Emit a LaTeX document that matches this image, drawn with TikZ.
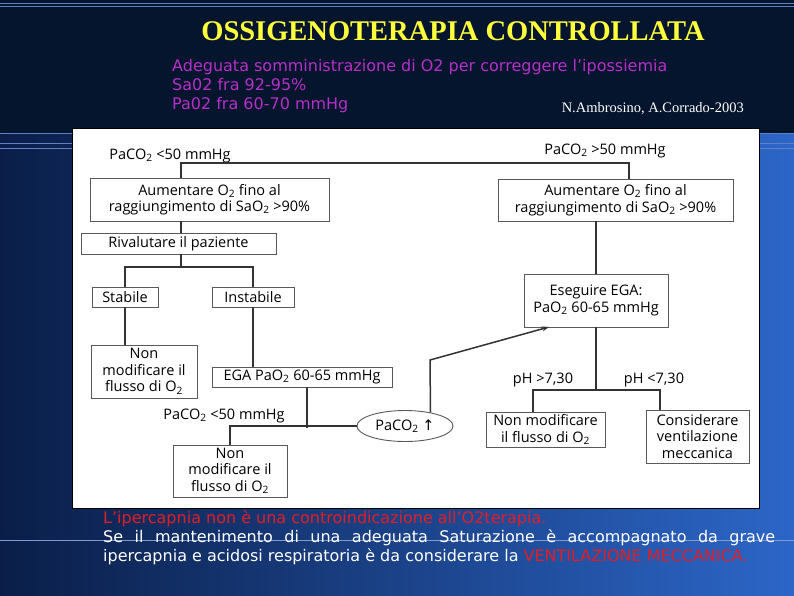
\documentclass[tikz,border=0pt]{standalone}
\usepackage{fontspec}
\setmainfont{Liberation Sans}
\newfontfamily\titlefont{Liberation Serif}
\newfontfamily\authorfont{Liberation Serif}
\newfontfamily\slidefont{DejaVu Sans}
\newfontfamily\chartfont{Open Sans}
\newfontfamily\symbolfont{DejaVu Sans}
\usetikzlibrary{shapes.geometric,arrows.meta}
\definecolor{bandnavy}{RGB}{6,21,46}
\definecolor{leftnavy}{RGB}{10,30,72}
\definecolor{rightblue}{RGB}{44,102,200}
\definecolor{rulerblue}{RGB}{96,128,196}
\definecolor{titleyellow}{RGB}{255,255,60}
\definecolor{subpurple}{RGB}{180,48,200}
\definecolor{notered}{RGB}{226,30,36}
\begin{document}
\begin{tikzpicture}[x=1pt,y=-1pt]
  \tikzset{box/.style={draw=black!65,line width=0.9pt,fill=white,inner sep=0pt,align=center,font=\chartfont\fontsize{14.5}{16.5}\selectfont},
    lab/.style={inner sep=0pt,font=\chartfont\fontsize{14.5}{16.5}\selectfont},
    link/.style={line width=1.5pt,draw=black!80}}
  \useasboundingbox (0,0) rectangle (794,595);
  % background
  \shade[left color=leftnavy,right color=rightblue] (0,133) rectangle (794,595);
  \fill[bandnavy] (0,0) rectangle (794,133);
  \draw[rulerblue,line width=0.8pt] (0,3.5) -- (794,3.5) (0,6) -- (794,6);
  \draw[rulerblue,line width=0.8pt] (0,133.5) -- (794,133.5) (0,143.5) -- (794,143.5) (0,148) -- (794,148);
  \draw[rulerblue!80,line width=0.8pt] (0,540) -- (794,540);
  % header
  \node[inner sep=0pt,text=titleyellow,font=\titlefont\bfseries\fontsize{28.5}{32}\selectfont] (title) at (453,31) {OSSIGENOTERAPIA CONTROLLATA};
  \node[inner sep=0pt,anchor=west,text=subpurple,align=left,font=\slidefont\fontsize{16}{19}\selectfont] (sub) at (172,86)
    {Adeguata somministrazione di O2 per correggere l’ipossiemia\\Sa02 fra 92-95\%\\Pa02 fra 60-70 mmHg};
  \node[inner sep=0pt,anchor=east,text=white,font=\authorfont\fontsize{14.5}{16}\selectfont] (author) at (744,109) {N.Ambrosino, A.Corrado-2003};
  % panel
  \draw[fill=white,draw=black,line width=1pt] (72,128) rectangle (759,508);
  % boxes
  \node[box,minimum width=239pt,minimum height=43pt] (a1) at (209.5,199.5) {Aumentare O\textsubscript{2} fino al\\raggiungimento di SaO\textsubscript{2} >90\%};
  \node[box,minimum width=235pt,minimum height=42pt] (a2) at (615.5,200) {Aumentare O\textsubscript{2} fino al\\raggiungimento di SaO\textsubscript{2} >90\%};
  \node[box,minimum width=195pt,minimum height=21pt] (riv) at (178.5,243.5) {Rivalutare il paziente};
  \node[box,minimum width=66pt,minimum height=20pt] (stab) at (125,297) {Stabile};
  \node[box,minimum width=82pt,minimum height=20pt] (instab) at (253,297) {Instabile};
  \node[box,minimum width=106pt,minimum height=53pt] (non1) at (144,371.5) {Non\\modificare il\\flusso di O\textsubscript{2}};
  \node[box,minimum width=180pt,minimum height=20pt] (ega) at (302,377) {EGA PaO\textsubscript{2} 60-65 mmHg};
  \node[box,minimum width=114pt,minimum height=52pt] (non2) at (230,471) {Non\\modificare il\\flusso di O\textsubscript{2}};
  \node[box,minimum width=144pt,minimum height=53pt] (esegui) at (596,300.5) {Eseguire EGA:\\PaO\textsubscript{2} 60-65 mmHg};
  \node[box,minimum width=119pt,minimum height=35pt] (nonmod) at (545.5,429.5) {Non modificare\\il flusso di O\textsubscript{2}};
  \node[box,minimum width=103pt,minimum height=53pt] (consid) at (697.5,436.5) {Considerare\\ventilazione\\meccanica};
  \node[box,ellipse,minimum width=96pt,minimum height=31pt] (pco) at (405,426) {PaCO\textsubscript{2} {\symbolfont ↑}};
  % labels
  \node[lab] (low1) at (170,156) {PaCO\textsubscript{2} <50 mmHg};
  \node[lab] (high1) at (605,151) {PaCO\textsubscript{2} >50 mmHg};
  \node[lab] (low2) at (224,416) {PaCO\textsubscript{2} <50 mmHg};
  \node[lab] (phhigh) at (543,380) {pH >7,30};
  \node[lab] (phlow) at (654,380) {pH <7,30};
  % connectors
  \coordinate (t1) at (181,163);
  \coordinate (t2) at (629,163);
  \coordinate (r1) at (181,267);
  \coordinate (e1) at (307,428);
  \coordinate (bend) at (430,360);
  \coordinate (tip) at (549,327);
  \coordinate (ph1) at (533,390);
  \coordinate (ph2) at (660,390);
  \draw[link] (a1.north -| t1) -- (t1) -- (t2) -- (a2.north -| t2);
  \draw[link] (a1.south -| t1) -- (riv.north -| t1);
  \draw[link] (riv.south -| r1) -- (r1);
  \draw[link] (stab.north) |- (r1) -| (instab.north);
  \draw[link] (stab.south) -- (non1.north -| stab.south);
  \draw[link] (instab.south) -- (ega.north -| instab.south);
  \draw[link] (ega.south -| e1) -- (e1);
  \draw[link] (non2.north) |- (pco.west);
  \draw[link,-{Stealth[length=7pt,width=5pt]}] (pco.28) -- (bend) -- (tip);
  \draw[link] (a2.south -| esegui.north) -- (esegui.north);
  \draw[link] (esegui.south) -- (esegui.south |- ph1);
  \draw[link] (nonmod.north -| ph1) -- (ph1) -- (ph2) -- (consid.north -| ph2);
  % footer
  \node[inner sep=0pt,anchor=west,text=notered,font=\slidefont\fontsize{16}{18}\selectfont] (note) at (103,519) {L’ipercapnia non è una controindicazione all’O2terapia.};
  \node[inner sep=0pt,anchor=west,text=white,font=\slidefont\fontsize{16}{18}\selectfont] (line1) at (103,538)
    {\makebox[672pt][s]{Se il mantenimento di una adeguata Saturazione è accompagnato da grave}};
  \node[inner sep=0pt,anchor=west,text=white,font=\slidefont\fontsize{16}{18}\selectfont] (line2) at (103,557)
    {ipercapnia e acidosi respiratoria è da considerare la \textcolor{notered}{VENTILAZIONE MECCANICA.}};
\end{tikzpicture}
\end{document}
